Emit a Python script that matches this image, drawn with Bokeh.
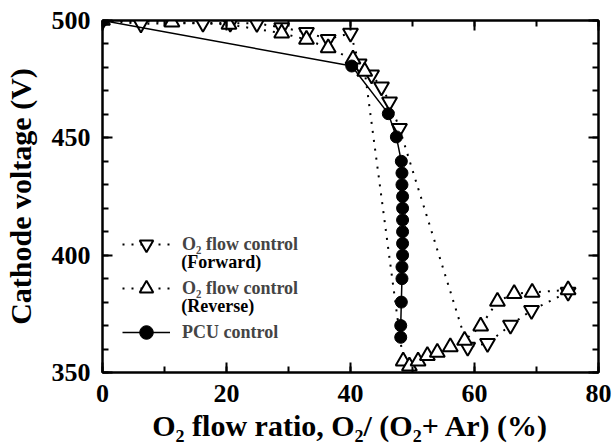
from bokeh.plotting import figure
from bokeh.models import (Range1d, LinearAxis, SingleIntervalTicker, Legend,
                          LegendItem, Label, CustomJSTickFormatter)
from bokeh.embed import file_html
from bokeh.resources import INLINE

# O2 flow control, increasing O2 ratio (forward sweep)
fwd_x = [0, 6.2, 16.2, 20.6, 24.9, 28.9, 32.9, 36.4, 40.0, 41.4, 43.4, 45.0,
         46.3, 47.9, 58.9, 62.1, 65.8, 69.2, 75.1]
fwd_y = [500, 498.6, 498.9, 498.9, 498.8, 497.0, 495.0, 492.0, 494.6, 481.5,
         476.8, 471.7, 465.3, 454.0, 360.8, 362.4, 370.2, 376.5, 384.3]

# O2 flow control, decreasing O2 ratio (reverse sweep)
rev_x = [0, 11.2, 20.4, 28.9, 32.9, 36.4, 40.4, 42.3, 48.5, 49.5, 50.9, 52.4,
         54.0, 56.1, 58.4, 61.0, 63.7, 66.4, 69.3, 75.1]
rev_y = [500, 499.3, 498.3, 494.6, 491.9, 488.3, 483.5, 478.3, 354.8, 352.7,
         354.8, 357.2, 358.6, 360.9, 363.7, 369.7, 380.3, 383.6, 384.1, 385.2]

# Plasma control unit (PCU) operation
pcu_x = [0, 40.2, 46.1, 47.4, 48.2, 48.3, 48.3, 48.4, 48.4, 48.4, 48.4, 48.4,
         48.4, 48.3, 48.3, 48.2, 48.1, 48.1]
pcu_y = [500, 480.6, 460.3, 450.4, 440, 435, 430, 425, 420, 415, 410, 405,
         400, 395, 390, 380, 370, 365]

FONT = "Liberation Serif"

p = figure(width=613, height=444, x_range=Range1d(0, 80),
           y_range=Range1d(350, 500), output_backend="svg",
           toolbar_location=None, min_border_left=100, min_border_right=15,
           min_border_top=20, min_border_bottom=71)
p.grid.visible = False
p.outline_line_color = "black"
p.outline_line_width = 2

xt = SingleIntervalTicker(interval=20, num_minor_ticks=2)
yt = SingleIntervalTicker(interval=50, num_minor_ticks=5)
blank = CustomJSTickFormatter(code="return ''")


def style_axis(ax, show_labels):
    ax.axis_line_width = 2
    ax.major_tick_in = 10
    ax.major_tick_out = 0
    ax.minor_tick_in = 6
    ax.minor_tick_out = 0
    ax.major_tick_line_width = 2
    ax.minor_tick_line_width = 2
    if show_labels:
        ax.major_label_text_font = FONT
        ax.major_label_text_font_style = "bold"
        ax.major_label_text_font_size = "26px"
        ax.major_label_text_color = "black"
        ax.axis_label_text_font = FONT
        ax.axis_label_text_font_style = "bold"
        ax.axis_label_text_font_size = "30px"
        ax.axis_label_text_color = "black"
    else:
        ax.formatter = blank
        ax.major_label_standoff = 0


p.xaxis.ticker = xt
p.yaxis.ticker = yt
style_axis(p.xaxis[0], True)
style_axis(p.yaxis[0], True)
p.xaxis.axis_label = "O\u2082 flow ratio, O\u2082/ (O\u2082+ Ar) (%)"
p.yaxis.axis_label = "Cathode voltage (V)"
p.xaxis.major_label_standoff = 12
p.yaxis.major_label_standoff = 12
p.xaxis.axis_label_standoff = 4
p.yaxis.axis_label_standoff = 12

top = LinearAxis(ticker=xt)
right = LinearAxis(ticker=yt)
style_axis(top, False)
style_axis(right, False)
p.add_layout(top, "above")
p.add_layout(right, "right")

# dotted guide lines and markers for the two sweeps
fl = p.line(fwd_x, fwd_y, line_color="black", line_width=2, line_dash="2 7")
rl = p.line(rev_x, rev_y, line_color="black", line_width=2, line_dash="2 7")
fm = p.scatter(fwd_x, fwd_y, marker="inverted_triangle", size=15,
               fill_color="white", line_color="black", line_width=2)
rm = p.scatter(rev_x, rev_y, marker="triangle", size=15,
               fill_color="white", line_color="black", line_width=2)
pl = p.line(pcu_x, pcu_y, line_color="black", line_width=1.5)
pm = p.scatter(pcu_x, pcu_y, marker="circle", size=12,
               fill_color="black", line_color="black")

legend = Legend(items=[
    LegendItem(label="O\u2082 flow control", renderers=[fl, fm]),
    LegendItem(label="O\u2082 flow control", renderers=[rl, rm]),
    LegendItem(label="PCU control", renderers=[pl, pm]),
], location=(20, 23))
legend.label_text_font = FONT
legend.label_text_font_style = "bold"
legend.label_text_font_size = "18px"
legend.glyph_width = 48
legend.glyph_height = 34
legend.label_standoff = 12
legend.spacing = 10
legend.padding = 0
legend.margin = 0
legend.border_line_color = None
legend.background_fill_alpha = 0
p.add_layout(legend, "center")

# second line of the two O2 flow control entries
for txt, yv in [("(Forward)", 397.3), ("(Reverse)", 378.5)]:
    p.add_layout(Label(x=12.7, y=yv, text=txt, text_font=FONT,
                       text_font_style="bold", text_font_size="18px",
                       text_baseline="middle", text_color="black"))

open("out.html", "w").write(file_html(p, INLINE))
